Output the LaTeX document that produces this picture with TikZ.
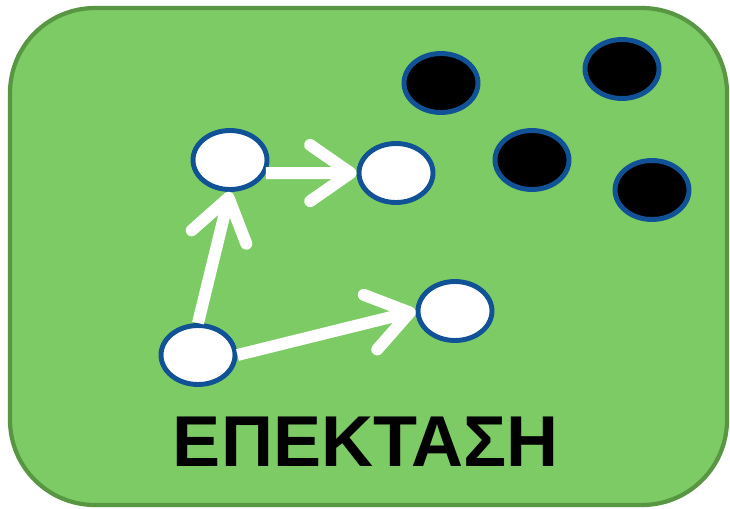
\documentclass[tikz,border=0pt]{standalone}
\usepackage{fontspec}
\setmainfont{Liberation Sans}
\usepackage{xcolor}
\usetikzlibrary{shapes.geometric,arrows.meta}
\definecolor{boxgreen}{RGB}{125,203,101}
\definecolor{boxedge}{RGB}{88,150,68}
\definecolor{ringblue}{RGB}{17,82,150}
\tikzset{
  panel/.style={ % image of the green rounded panel
    fill=boxgreen, draw=boxedge, line width=2.4pt,
    rounded corners=1.7cm
  },
  visited/.style={ % image of a white (reached) vertex
    ellipse, draw=ringblue, fill=white, line width=2.8pt,
    minimum width=1.48cm, minimum height=1.18cm, inner sep=0pt
  },
  unvisited/.style={ % image of a black (not reached) vertex
    visited, fill=black
  },
  growarrow/.style={ % thick white arrow
    draw=white, line width=6.8pt,
    -{Straight Barb[length=23pt,width=32pt,round]}
  }
}
\begin{document}
\begin{tikzpicture}[x=0.02cm,y=-0.02cm]
    \useasboundingbox (0,0) rectangle (730,508);
    \fill[white] (0,0) rectangle (730,508);
    \draw[panel] (10,8) rectangle (727,505);

    \node[visited] (a) at (230,160) {};
    \node[visited] (b) at (396,173) {};
    \node[visited] (c) at (198,355) {};
    \node[visited] (d) at (455,311) {};

    \node[unvisited] (e) at (441,83) {};
    \node[unvisited] (f) at (622,69) {};
    \node[unvisited] (g) at (532,160) {};
    \node[unvisited] (h) at (652,190) {};

    \node (title) at (366,442) {\fontsize{41}{48}\selectfont\bfseries ΕΠΕΚΤΑΣΗ};

    \draw[growarrow] (c.north) -- (a.south);
    \draw[growarrow] (a.-20) -- (b.west);
    \draw[growarrow] (c.east) -- (d.west);
  \end{tikzpicture}
\end{document}
